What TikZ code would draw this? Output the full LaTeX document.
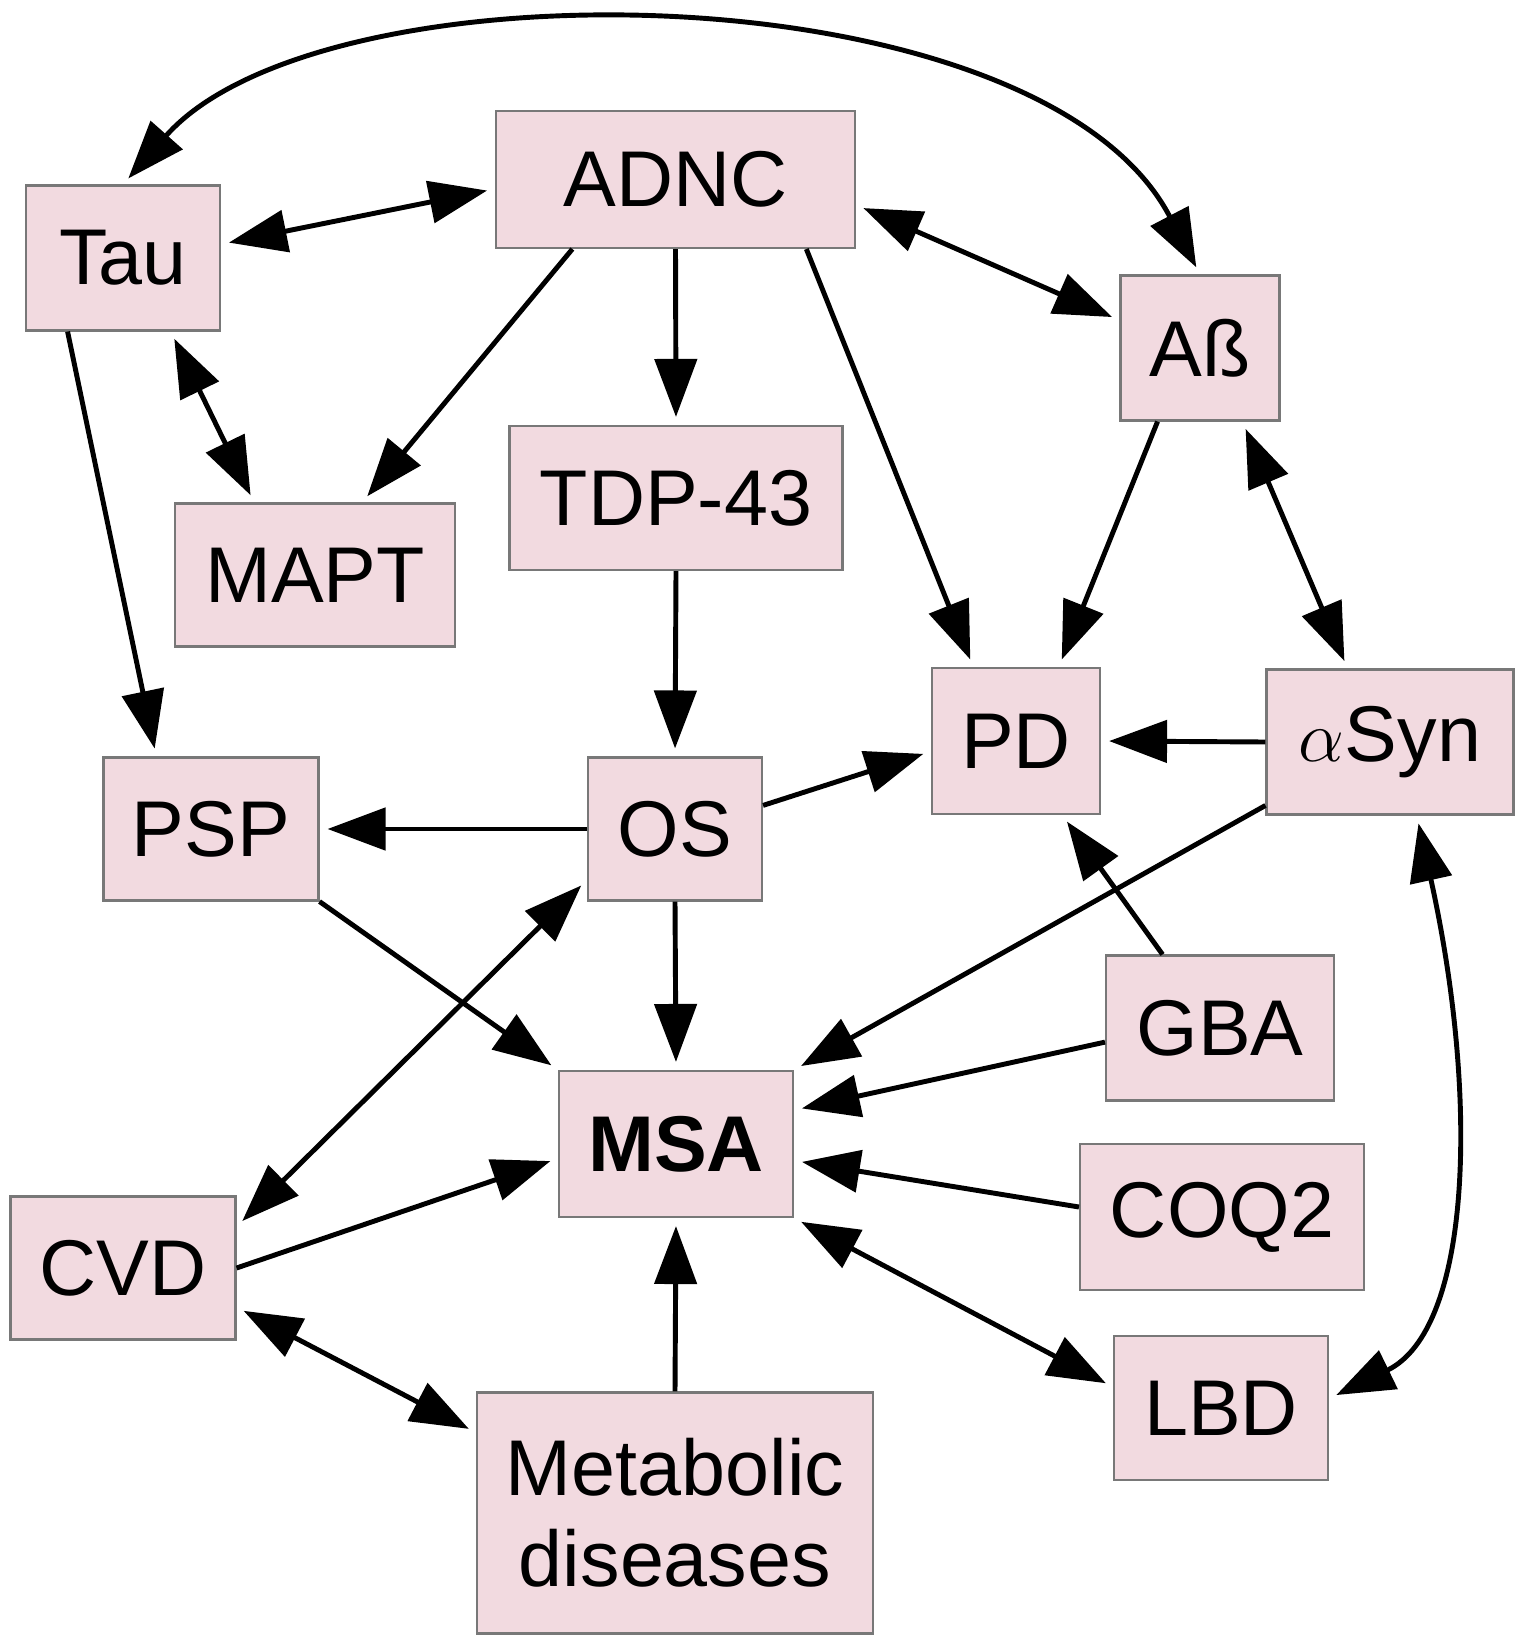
\documentclass[tikz,border=0pt]{standalone}
\usepackage{fontspec}
\setmainfont{Liberation Sans}
\usetikzlibrary{arrows.meta}
\definecolor{boxpink}{RGB}{242,218,224}
\definecolor{boxgray}{RGB}{120,120,120}
\begin{document}
\begin{tikzpicture}[
    box/.style={draw=boxgray, fill=boxpink, line width=0.6pt, inner sep=0pt,
      align=center, font=\fontsize{22.5}{26}\selectfont},
    arr/.style={line width=1.4pt, -{Triangle[length=5.8mm,width=4.2mm]}, shorten >=0.8mm},
    barr/.style={line width=1.4pt, {Triangle[length=5.8mm,width=4.2mm]}-{Triangle[length=5.8mm,width=4.2mm]},
      shorten >=0.8mm, shorten <=0.8mm}
  ]
    \useasboundingbox (0,0) rectangle (15.24,-16.40);
    \node[box, minimum width=1.94cm, minimum height=1.45cm] (tau) at (1.23,-2.58) {Tau};
    \node[box, minimum width=3.59cm, minimum height=1.37cm] (adnc) at (6.755,-1.795) {ADNC};
    \node[box, minimum width=1.59cm, minimum height=1.45cm] (ab) at (12.00,-3.48) {Aß};
    \node[box, minimum width=2.80cm, minimum height=1.43cm] (mapt) at (3.15,-5.75) {MAPT};
    \node[box, minimum width=3.33cm, minimum height=1.44cm] (tdp) at (6.76,-4.98) {TDP-43};
    \node[box, minimum width=1.68cm, minimum height=1.46cm] (pd) at (10.16,-7.41) {PD};
    \node[box, minimum width=2.47cm, minimum height=1.45cm] (asyn) at (13.90,-7.42) {$\alpha$Syn};
    \node[box, minimum width=2.15cm, minimum height=1.43cm] (psp) at (2.11,-8.29) {PSP};
    \node[box, minimum width=1.74cm, minimum height=1.43cm] (os) at (6.75,-8.29) {OS};
    \node[box, minimum width=2.28cm, minimum height=1.45cm] (gba) at (12.20,-10.28) {GBA};
    \node[box, minimum width=2.34cm, minimum height=1.46cm] (msa) at (6.76,-11.44) {\bfseries MSA};
    \node[box, minimum width=2.84cm, minimum height=1.46cm] (coq) at (12.22,-12.17) {COQ2};
    \node[box, minimum width=2.25cm, minimum height=1.43cm] (cvd) at (1.23,-12.68) {CVD};
    \node[box, minimum width=2.14cm, minimum height=1.44cm] (lbd) at (12.21,-14.08) {LBD};
    \node[box, minimum width=3.96cm, minimum height=2.41cm] (meta) at (6.75,-15.13) {Metabolic\\diseases};
    \draw[barr] (tau.8) -- (adnc.183);
    \draw[barr] (tau.north) .. controls +(2.0,2.26) and +(-1.6,3.06) .. (ab.north);
    \draw[arr] (adnc.214) -- (mapt.57);
    \draw[arr] (adnc.south) -- (tdp.north);
    \draw[arr] (adnc.-28) -- (pd.120);
    \draw[barr] (adnc.-8) -- (ab.161);
    \draw[barr] (tau.-57) -- (mapt.130);
    \draw[arr] (tau.233) -- (psp.127);
    \draw[arr] (ab.240) -- (pd.60);
    \draw[barr] (ab.-60) -- (asyn.120);
    \draw[arr] (asyn.west) -- (pd.east);
    \draw[arr] (asyn.207) -- (msa.north east);
    \draw[barr] (asyn.-70) .. controls +(0.63,-2.85) and +(1.42,0.69) .. (lbd.5);
    \draw[arr] (os.west) -- (psp.east);
    \draw[arr] (os.15) -- (pd.187);
    \draw[arr] (tdp.south) -- (os.north);
    \draw[arr] (os.south) -- (msa.north);
    \draw[barr] (os.210) -- (cvd.20);
    \draw[arr] (psp.south east) -- (msa.north west);
    \draw[arr] (gba.128) -- (pd.-58);
    \draw[arr] (gba.187) -- (msa.16);
    \draw[arr] (coq.176) -- (msa.-8);
    \draw[barr] (msa.south east) -- (lbd.169);
    \draw[arr] (cvd.east) -- (msa.187);
    \draw[barr] (cvd.-19) -- (meta.158);
    \draw[arr] (meta.north) -- (msa.south);
\end{tikzpicture}
\end{document}
